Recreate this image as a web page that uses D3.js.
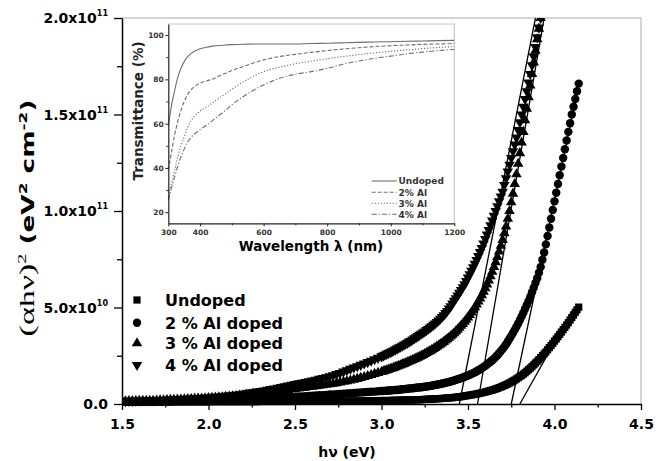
<!DOCTYPE html>
<html>
<head>
<meta charset="utf-8">
<script src="https://cdn.jsdelivr.net/npm/d3@7"></script>
<style>
  body { margin: 0; background: #fff; }
  svg { display: block; }
</style>
</head>
<body>
<div id="chart"></div>
<script>
// photon energy (eV): 0.02 steps below 3 eV, 0.01 steps above
const energy = [
  1.50,1.52,1.54,1.56,1.58,1.60,1.62,1.64,1.66,1.68,
  1.70,1.72,1.74,1.76,1.78,1.80,1.82,1.84,1.86,1.88,
  1.90,1.92,1.94,1.96,1.98,2.00,2.02,2.04,2.06,2.08,
  2.10,2.12,2.14,2.16,2.18,2.20,2.22,2.24,2.26,2.28,
  2.30,2.32,2.34,2.36,2.38,2.40,2.42,2.44,2.46,2.48,
  2.50,2.52,2.54,2.56,2.58,2.60,2.62,2.64,2.66,2.68,
  2.70,2.72,2.74,2.76,2.78,2.80,2.82,2.84,2.86,2.88,
  2.90,2.92,2.94,2.96,2.98,
  3.00,3.01,3.02,3.03,3.04,3.05,3.06,3.07,3.08,3.09,
  3.10,3.11,3.12,3.13,3.14,3.15,3.16,3.17,3.18,3.19,
  3.20,3.21,3.22,3.23,3.24,3.25,3.26,3.27,3.28,3.29,
  3.30,3.31,3.32,3.33,3.34,3.35,3.36,3.37,3.38,3.39,
  3.40,3.41,3.42,3.43,3.44,3.45,3.46,3.47,3.48,3.49,
  3.50,3.51,3.52,3.53,3.54,3.55,3.56,3.57,3.58,3.59,
  3.60,3.61,3.62,3.63,3.64,3.65,3.66,3.67,3.68,3.69,
  3.70,3.71,3.72,3.73,3.74,3.75,3.76,3.77,3.78,3.79,
  3.80,3.81,3.82,3.83,3.84,3.85,3.86,3.87,3.88,3.89,
  3.90,3.91,3.92,3.93,3.94,3.95,3.96,3.97,3.98,3.99,
  4.00,4.01,4.02,4.03,4.04,4.05,4.06,4.07,4.08,4.09,
  4.10,4.11,4.12,4.13,4.14
];

// (αhν)² in units of 1e10 eV² cm⁻²
const undoped = [
  0.10,0.10,0.10,0.10,0.10,0.10,0.10,0.10,0.10,0.10,
  0.10,0.10,0.10,0.10,0.10,0.11,0.11,0.11,0.11,0.11,
  0.11,0.11,0.11,0.11,0.11,0.11,0.12,0.12,0.12,0.12,
  0.12,0.12,0.12,0.12,0.12,0.12,0.12,0.12,0.12,0.12,
  0.13,0.13,0.13,0.13,0.13,0.13,0.13,0.13,0.13,0.13,
  0.14,0.14,0.14,0.14,0.14,0.14,0.14,0.15,0.15,0.15,
  0.15,0.15,0.15,0.15,0.15,0.16,0.16,0.16,0.16,0.16,
  0.17,0.17,0.17,0.17,0.18,
  0.18,0.18,0.18,0.18,0.18,0.18,0.19,0.19,0.19,0.19,
  0.19,0.20,0.20,0.20,0.20,0.21,0.21,0.21,0.21,0.22,
  0.22,0.22,0.22,0.23,0.23,0.24,0.24,0.25,0.25,0.26,
  0.26,0.27,0.27,0.28,0.28,0.29,0.29,0.30,0.31,0.32,
  0.32,0.33,0.34,0.35,0.36,0.37,0.38,0.40,0.41,0.43,
  0.44,0.46,0.47,0.49,0.50,0.52,0.54,0.56,0.58,0.60,
  0.62,0.65,0.67,0.70,0.72,0.75,0.78,0.81,0.85,0.88,
  0.92,0.96,1.00,1.04,1.09,1.14,1.19,1.24,1.30,1.36,
  1.42,1.48,1.55,1.62,1.70,1.78,1.86,1.94,2.03,2.12,
  2.21,2.30,2.40,2.50,2.60,2.70,2.81,2.92,3.03,3.14,
  3.26,3.37,3.49,3.61,3.73,3.85,3.97,4.09,4.22,4.35,
  4.48,4.61,4.75,4.88,5.02
];
const al2 = [
  0.12,0.12,0.12,0.12,0.12,0.13,0.13,0.13,0.13,0.13,
  0.14,0.14,0.14,0.15,0.15,0.16,0.16,0.16,0.17,0.17,
  0.18,0.18,0.19,0.19,0.19,0.20,0.20,0.20,0.21,0.22,
  0.23,0.23,0.24,0.24,0.25,0.26,0.26,0.27,0.28,0.29,
  0.30,0.31,0.31,0.32,0.33,0.34,0.35,0.35,0.36,0.37,
  0.38,0.39,0.39,0.40,0.41,0.43,0.44,0.45,0.46,0.47,
  0.49,0.50,0.51,0.52,0.53,0.55,0.56,0.57,0.58,0.60,
  0.61,0.62,0.63,0.64,0.66,
  0.67,0.67,0.68,0.69,0.70,0.70,0.71,0.72,0.73,0.73,
  0.74,0.75,0.76,0.77,0.78,0.79,0.80,0.81,0.82,0.83,
  0.84,0.85,0.86,0.87,0.88,0.89,0.91,0.92,0.94,0.95,
  0.97,0.98,1.00,1.02,1.04,1.06,1.08,1.10,1.12,1.14,
  1.17,1.19,1.22,1.25,1.28,1.31,1.34,1.37,1.41,1.44,
  1.48,1.52,1.56,1.60,1.65,1.70,1.75,1.80,1.86,1.92,
  1.98,2.05,2.12,2.19,2.27,2.35,2.44,2.53,2.63,2.74,
  2.85,2.97,3.10,3.24,3.38,3.53,3.68,3.84,4.00,4.17,
  4.35,4.54,4.73,4.93,5.13,5.34,5.56,5.79,6.02,6.27,
  6.52,6.80,7.10,7.47,7.85,8.27,8.70,9.15,9.60,10.05,
  10.5,10.95,11.4,11.85,12.3,12.75,13.2,13.65,14.1,14.55,
  15.0,15.4,15.8,16.2,16.6
];
const al3 = [
  0.14,0.14,0.15,0.15,0.15,0.16,0.16,0.16,0.17,0.17,
  0.18,0.19,0.19,0.20,0.21,0.22,0.23,0.23,0.24,0.25,
  0.26,0.27,0.28,0.28,0.29,0.31,0.32,0.33,0.34,0.35,
  0.37,0.38,0.40,0.41,0.43,0.45,0.47,0.49,0.51,0.53,
  0.55,0.57,0.59,0.61,0.64,0.66,0.68,0.71,0.73,0.76,
  0.78,0.80,0.83,0.85,0.88,0.90,0.92,0.95,0.97,1.00,
  1.02,1.05,1.08,1.12,1.15,1.18,1.22,1.26,1.30,1.35,
  1.40,1.45,1.50,1.56,1.61,
  1.66,1.69,1.72,1.75,1.78,1.81,1.84,1.87,1.91,1.94,
  1.98,2.01,2.05,2.08,2.12,2.16,2.20,2.24,2.28,2.32,
  2.36,2.40,2.45,2.49,2.54,2.59,2.64,2.69,2.74,2.79,
  2.85,2.91,2.97,3.03,3.09,3.15,3.22,3.29,3.36,3.43,
  3.51,3.59,3.67,3.76,3.85,3.95,4.05,4.15,4.26,4.37,
  4.49,4.61,4.74,4.87,5.01,5.16,5.31,5.47,5.64,5.82,
  6.00,6.20,6.40,6.62,6.85,7.10,7.35,7.62,7.90,8.20,
  8.50,8.85,9.20,9.60,10.0,10.45,10.9,11.4,11.9,12.45,
  13.0,13.55,14.1,14.7,15.3,15.9,16.5,17.1,17.7,18.3,
  18.9,19.45,20.0
];
const al4 = [
  0.15,0.15,0.16,0.16,0.17,0.17,0.18,0.18,0.19,0.19,
  0.20,0.21,0.21,0.22,0.23,0.24,0.25,0.25,0.26,0.27,
  0.28,0.29,0.30,0.31,0.32,0.34,0.35,0.37,0.38,0.40,
  0.42,0.44,0.46,0.48,0.50,0.53,0.56,0.59,0.61,0.64,
  0.67,0.70,0.73,0.77,0.80,0.84,0.88,0.92,0.96,1.00,
  1.03,1.07,1.10,1.14,1.18,1.22,1.26,1.30,1.34,1.39,
  1.43,1.49,1.55,1.61,1.68,1.75,1.82,1.89,1.96,2.03,
  2.10,2.17,2.24,2.32,2.39,
  2.47,2.51,2.55,2.60,2.64,2.68,2.73,2.77,2.82,2.87,
  2.92,2.97,3.02,3.07,3.12,3.17,3.23,3.28,3.34,3.40,
  3.46,3.52,3.58,3.64,3.70,3.76,3.83,3.89,3.96,4.03,
  4.10,4.17,4.25,4.33,4.42,4.51,4.60,4.71,4.82,4.94,
  5.06,5.20,5.35,5.48,5.62,5.76,5.90,6.05,6.20,6.37,
  6.55,6.72,6.90,7.08,7.27,7.46,7.66,7.87,8.08,8.31,
  8.55,8.78,9.02,9.26,9.50,9.75,10.0,10.25,10.5,10.75,
  11.0,11.35,11.7,12.05,12.4,12.75,13.1,13.45,13.8,14.2,
  14.6,15.0,15.4,15.8,16.2,16.65,17.1,17.55,18.0,18.5,
  19.0,19.5,20.0
];
const seriesNames = ["Undoped", "2 % Al doped", "3 % Al doped", "4 % Al doped"];
const seriesValues = [undoped, al2, al3, al4];

// linear fits (x-intercept = band gap), one per series
const fitStart = [3.80, 3.75, 3.555, 3.45];
const fitEndE = [4.10, 4.142, 3.94, 3.89];
const fitEndV = [4.8, 16.6, 20, 20];

const xTicks = [1.5, 2.0, 2.5, 3.0, 3.5, 4.0, 4.5];
const xMinor = [1.75, 2.25, 2.75, 3.25, 3.75, 4.25];
const yTicks = [0, 5, 10, 15, 20];
const yMinor = [2.5, 7.5, 12.5, 17.5];
const yTickMant = ["0.0", "5.0x10", "1.0x10", "1.5x10", "2.0x10"];
const yTickExp = ["", "10", "11", "11", "11"];

// inset: transmittance spectra
const wavelength = [300,310,320,330,340,350,360,370,380,390,400,420,440,460,480,500,550,600,650,700,750,800,850,900,950,1000,1050,1100,1150,1200];
const tUndoped = [59,68,75,81,85,88,90,91.5,92.5,93.2,93.8,94.5,95.0,95.3,95.5,95.7,95.9,96.0,96.0,96.0,96.2,96.3,96.5,96.7,96.9,97.0,97.2,97.3,97.5,97.6];
const t2 = [39,47,55,61,66,70,73,75,76.5,77.5,78.3,79.3,80.2,81.5,82.8,84,86.5,88.8,90.3,91.3,92.2,93,93.7,94.3,94.8,95.2,95.5,95.8,96.0,96.2];
const t3 = [27,33,39,45,50,54,58,61,63,64.5,65.7,67.5,69.5,71.5,73.5,75.5,80,83.5,85.5,87,88.2,89.3,90.3,91.2,92,92.7,93.3,93.9,94.4,94.8];
const t4 = [25.5,31,36,41,45,48.5,51.5,53.5,55,56.2,57.3,59.3,61.5,63.8,66,68.5,73.5,77.5,80.5,82.3,83.5,85,86.8,88.3,89.5,90.5,91.5,92.3,93,93.5];
const insetNames = ["Undoped", "2% Al", "3% Al", "4% Al"];
const insetValues = [tUndoped, t2, t3, t4];
const insetXTicks = [300, 400, 600, 800, 1000, 1200];
const insetXMinor = [500, 700, 900, 1100];
const insetYTicks = [20, 40, 60, 80, 100];
const insetYMinor = [30, 50, 70, 90];

const sans = "'DejaVu Sans', Arial, sans-serif";
const serif = "'Liberation Serif', 'Times New Roman', serif";

const svg = d3.select("#chart").append("svg")
  .attr("width", 666)
  .attr("height", 461);

const x = d3.scaleLinear().domain([1.5, 4.5]).range([122, 641]);
const y = d3.scaleLinear().domain([0, 20]).range([404, 18]);

svg.append("defs").append("clipPath")
  .attr("id", "plot-clip")
  .append("rect")
  .attr("x", 122).attr("y", 18)
  .attr("width", 519).attr("height", 392);

// light frame on top and right
svg.append("path")
  .attr("d", `M${x(1.5)},${y(20)}H${x(4.5)}V${y(0)}`)
  .attr("fill", "none")
  .attr("stroke", "#c8c8c8")
  .attr("stroke-width", 1.5);

// markers
const symbolTypes = [d3.symbolSquare, d3.symbolCircle, d3.symbolTriangle, d3.symbolTriangle];
const symbolRot = [0, 0, 0, 180];
const symbolSize = [52, 56, 48, 48];

const plot = svg.append("g").attr("clip-path", "url(#plot-clip)");
seriesValues.forEach((vals, i) => {
  plot.append("g")
    .selectAll("path")
    .data(vals)
    .join("path")
    .attr("transform", (d, j) => `translate(${x(energy[j])},${y(d)}) rotate(${symbolRot[i]})`)
    .attr("d", d3.symbol(symbolTypes[i], symbolSize[i]))
    .attr("fill", "#000");
});

// fit lines
plot.append("g")
  .selectAll("line")
  .data(fitStart)
  .join("line")
  .attr("x1", d => x(d))
  .attr("y1", y(0))
  .attr("x2", (d, i) => x(fitEndE[i]))
  .attr("y2", (d, i) => y(fitEndV[i]))
  .attr("stroke", "#000")
  .attr("stroke-width", 1.3);

// x axis
function styleAxis(g) {
  g.select(".domain").attr("stroke", "#000").attr("stroke-width", 1.5);
  g.selectAll(".tick line").attr("stroke", "#000").attr("stroke-width", 1.3);
}
svg.append("g")
  .attr("transform", `translate(0,${y(0)})`)
  .call(d3.axisBottom(x).tickValues(xTicks).tickSize(6).tickSizeOuter(0).tickPadding(9).tickFormat(d3.format(".1f")))
  .call(styleAxis)
  .call(g => g.selectAll(".tick text")
    .attr("fill", "#000")
    .style("font-family", sans)
    .style("font-weight", "bold")
    .style("font-size", "14px"));
svg.append("g")
  .attr("transform", `translate(0,${y(0)})`)
  .call(d3.axisBottom(x).tickValues(xMinor).tickSize(3.5).tickFormat(""))
  .call(styleAxis)
  .call(g => g.select(".domain").remove());

// y axis
svg.append("g")
  .attr("transform", `translate(${x(1.5)},0)`)
  .call(d3.axisLeft(y).tickValues(yTicks).tickSize(8).tickSizeOuter(0).tickFormat(""))
  .call(styleAxis);
svg.append("g")
  .attr("transform", `translate(${x(1.5)},0)`)
  .call(d3.axisLeft(y).tickValues(yMinor).tickSize(5).tickFormat(""))
  .call(styleAxis)
  .call(g => g.select(".domain").remove());

const yLabels = svg.append("g")
  .style("font-family", sans)
  .style("font-weight", "bold")
  .attr("text-anchor", "end");
yTicks.forEach((v, i) => {
  const t = yLabels.append("text")
    .attr("x", 108)
    .attr("y", y(v) + 5)
    .style("font-size", "14px");
  t.append("tspan").text(yTickMant[i]);
  if (yTickExp[i]) {
    t.append("tspan").attr("dy", -7).style("font-size", "8px").text(yTickExp[i]);
  }
});

// axis titles
svg.append("text")
  .attr("x", 347)
  .attr("y", 457)
  .attr("text-anchor", "middle")
  .style("font-family", sans)
  .style("font-weight", "bold")
  .style("font-size", "14px")
  .text("hν (eV)");

const yTitle = svg.append("text")
  .attr("text-anchor", "middle")
  .style("font-family", sans)
  .style("font-weight", "bold")
  .style("font-size", "17px");
yTitle.append("tspan")
  .style("font-family", serif)
  .style("font-weight", "normal")
  .style("font-size", "22px")
  .text("(αhν)");
yTitle.append("tspan").attr("dy", -8).style("font-family", serif).style("font-weight", "normal").style("font-size", "13px").text("2");
yTitle.append("tspan").attr("dy", 8).text(" (eV");
yTitle.append("tspan").attr("dy", -7).style("font-size", "11px").text("2");
yTitle.append("tspan").attr("dy", 7).text(" cm");
yTitle.append("tspan").attr("dy", -7).style("font-size", "11px").text("-2");
yTitle.append("tspan").attr("dy", 7).text(")");
const yTitleW = yTitle.node().getBBox().width;
yTitle.attr("transform", `translate(34,218) rotate(-90) scale(${237 / yTitleW},1)`);

// legend
const legend = svg.append("g");
const legendY = [300, 322.7, 343.3, 365];
seriesNames.forEach((name, i) => {
  legend.append("path")
    .attr("transform", `translate(137,${legendY[i]}) rotate(${symbolRot[i]})`)
    .attr("d", d3.symbol(symbolTypes[i], symbolSize[i]))
    .attr("fill", "#000");
  legend.append("text")
    .attr("x", 165)
    .attr("y", legendY[i] + 6)
    .style("font-family", sans)
    .style("font-weight", "bold")
    .style("font-size", "16px")
    .text(name);
});

// ---- inset ----
const ix = d3.scaleLinear().domain([300, 1200]).range([168.3, 454.3]);
const iy = d3.scaleLinear().domain([15, 105]).range([223.3, 24]);
const inset = svg.append("g");

inset.append("rect")
  .attr("x", ix(300)).attr("y", iy(105))
  .attr("width", ix(1200) - ix(300)).attr("height", iy(15) - iy(105))
  .attr("fill", "#fff");
inset.append("path")
  .attr("d", `M${ix(300)},${iy(105)}H${ix(1200)}V${iy(15)}`)
  .attr("fill", "none")
  .attr("stroke", "#c8c8c8")
  .attr("stroke-width", 1.2);

const dashes = [null, "4,2", "1.2,1.8", "5,2,1.2,2"];
const tLine = d3.line().x((d, j) => ix(wavelength[j])).y(d => iy(d)).curve(d3.curveMonotoneX);
insetValues.forEach((vals, i) => {
  inset.append("path")
    .attr("d", tLine(vals))
    .attr("fill", "none")
    .attr("stroke", "#6e6e6e")
    .attr("stroke-width", 1.1)
    .attr("stroke-dasharray", dashes[i]);
});

function styleInsetAxis(g) {
  g.select(".domain").attr("stroke", "#222").attr("stroke-width", 1.2);
  g.selectAll(".tick line").attr("stroke", "#222").attr("stroke-width", 1);
  g.selectAll(".tick text")
    .attr("fill", "#333")
    .style("font-family", sans)
    .style("font-weight", "bold")
    .style("font-size", "7.5px");
}
inset.append("g")
  .attr("transform", `translate(0,${iy(15)})`)
  .call(d3.axisBottom(ix).tickValues(insetXTicks).tickSize(3).tickSizeOuter(0).tickPadding(3.5).tickFormat(d3.format("d")))
  .call(styleInsetAxis);
inset.append("g")
  .attr("transform", `translate(0,${iy(15)})`)
  .call(d3.axisBottom(ix).tickValues(insetXMinor).tickSize(2).tickFormat(""))
  .call(styleInsetAxis)
  .call(g => g.select(".domain").remove());
inset.append("g")
  .attr("transform", `translate(${ix(300)},0)`)
  .call(d3.axisLeft(iy).tickValues(insetYTicks).tickSize(3).tickSizeOuter(0).tickPadding(1.5))
  .call(styleInsetAxis);
inset.append("g")
  .attr("transform", `translate(${ix(300)},0)`)
  .call(d3.axisLeft(iy).tickValues(insetYMinor).tickSize(2).tickFormat(""))
  .call(styleInsetAxis)
  .call(g => g.select(".domain").remove());

inset.append("text")
  .attr("transform", "translate(142.5,111) rotate(-90)")
  .attr("text-anchor", "middle")
  .attr("fill", "#222")
  .style("font-family", sans)
  .style("font-weight", "bold")
  .style("font-size", "13.5px")
  .text("Transmittance (%)");
inset.append("text")
  .attr("x", 311)
  .attr("y", 251)
  .attr("text-anchor", "middle")
  .attr("fill", "#000")
  .style("font-family", sans)
  .style("font-weight", "bold")
  .style("font-size", "13.5px")
  .text("Wavelength λ (nm)");

const insetLegendY = [181, 192.3, 203.3, 214.3];
insetNames.forEach((name, i) => {
  inset.append("line")
    .attr("x1", 371.7).attr("x2", 396.7)
    .attr("y1", insetLegendY[i]).attr("y2", insetLegendY[i])
    .attr("stroke", "#6e6e6e")
    .attr("stroke-width", 1.1)
    .attr("stroke-dasharray", dashes[i]);
  inset.append("text")
    .attr("x", 398.5)
    .attr("y", insetLegendY[i] + 3.3)
    .attr("fill", "#333")
    .style("font-family", sans)
    .style("font-weight", "bold")
    .style("font-size", "9px")
    .text(name);
});
</script>
</body>
</html>
